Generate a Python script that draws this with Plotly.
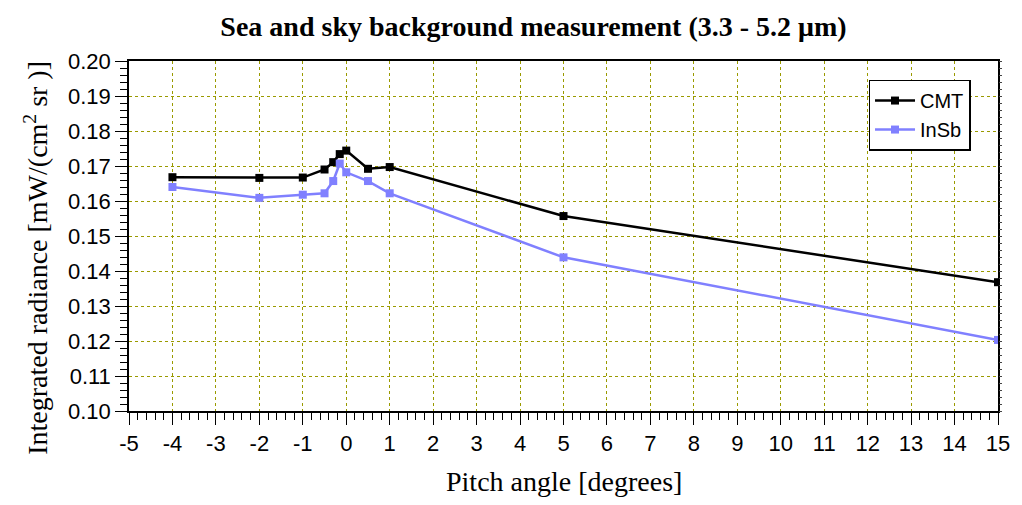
import plotly.graph_objects as go

pitch = [-4, -2, -1, -0.5, -0.3, -0.15, 0, 0.5, 1, 5, 15]
cmt = [0.1668, 0.1666, 0.1667, 0.1690, 0.1711, 0.1734, 0.1744, 0.1692, 0.1697, 0.1557, 0.1368]
insb = [0.1640, 0.1609, 0.1618, 0.1622, 0.1657, 0.1707, 0.1682, 0.1657, 0.1622, 0.1439, 0.1203]

x_ticks = list(range(-5, 16))
y_ticks = [round(0.10 + 0.01 * i, 2) for i in range(11)]

fig = go.Figure()
fig.add_trace(go.Scatter(x=pitch, y=cmt, name="CMT", mode="lines+markers",
                         line=dict(color="black", width=2.5),
                         marker=dict(symbol="square", size=8, color="black")))
fig.add_trace(go.Scatter(x=pitch, y=insb, name="InSb", mode="lines+markers",
                         line=dict(color="#8080FF", width=2.5),
                         marker=dict(symbol="square", size=8, color="#8080FF")))
# invisible trace to carry right-side ticks
fig.add_trace(go.Scatter(x=[pitch[0]], y=[cmt[0]], yaxis="y2", showlegend=False,
                         mode="markers", marker=dict(opacity=0), hoverinfo="skip"))

grid = dict(showgrid=True, gridcolor="#9a9a00", griddash="dot", gridwidth=1)
serif = dict(family="Liberation Serif", size=28, color="black")

fig.update_layout(
    width=1022, height=505,
    margin=dict(l=129, r=17, t=61, b=94),
    paper_bgcolor="white", plot_bgcolor="white",
    title=dict(text="<b>Sea and sky background measurement (3.3 - 5.2 μm)</b>",
               x=0.522, xanchor="center", y=0.948, yanchor="middle",
               font=dict(family="Liberation Serif", size=28, color="black")),
    xaxis=dict(range=[-5, 15], tickvals=x_ticks, ticktext=[str(v) for v in x_ticks],
               ticks="outside", ticklen=12, tickwidth=1, tickcolor="black",
               minor=dict(ticks="outside", ticklen=7, dtick=0.2, tick0=-5, tickcolor="black", showgrid=False),
               showline=True, linecolor="black", linewidth=1.5, mirror=True,
               zeroline=False,
               tickfont=dict(family="Liberation Sans", size=22, color="black"),
               **grid),
    yaxis=dict(range=[0.10, 0.20], tickvals=y_ticks, ticktext=[f"{v:.2f}" for v in y_ticks],
               ticks="outside", ticklen=12, tickwidth=1, tickcolor="black",
               minor=dict(ticks="outside", ticklen=7, dtick=0.002, tick0=0.10, tickcolor="black", showgrid=False),
               showline=True, linecolor="black", linewidth=1.5, mirror=True,
               zeroline=False,
               tickfont=dict(family="Liberation Sans", size=22, color="black"),
               **grid),
    yaxis2=dict(range=[0.10, 0.20], overlaying="y", side="right", showgrid=False,
                zeroline=False, showticklabels=False, ticks="outside", ticklen=3,
                tickcolor="#444", tickvals=y_ticks,
                minor=dict(ticks="outside", ticklen=3, dtick=0.002, tick0=0.10, tickcolor="#444")),
    legend=dict(x=0.851, y=0.947, xanchor="left", yanchor="top",
                bgcolor="white", bordercolor="black", borderwidth=1.5,
                font=dict(family="Liberation Sans", size=20, color="black"),
                itemwidth=40, tracegroupgap=0),
    showlegend=True,
    annotations=[
        dict(text="Pitch angle [degrees]", xref="paper", yref="paper",
             x=0.5, y=-0.2, xanchor="center", yanchor="middle",
             showarrow=False, font=serif),
        dict(text="Integrated radiance [mW/(cm<sup>2</sup> sr )]", xref="paper", yref="paper",
             x=-0.1073, y=0.437, xanchor="center", yanchor="middle", textangle=-90,
             showarrow=False, font=serif),
    ],
)

fig.write_html("out.html")
